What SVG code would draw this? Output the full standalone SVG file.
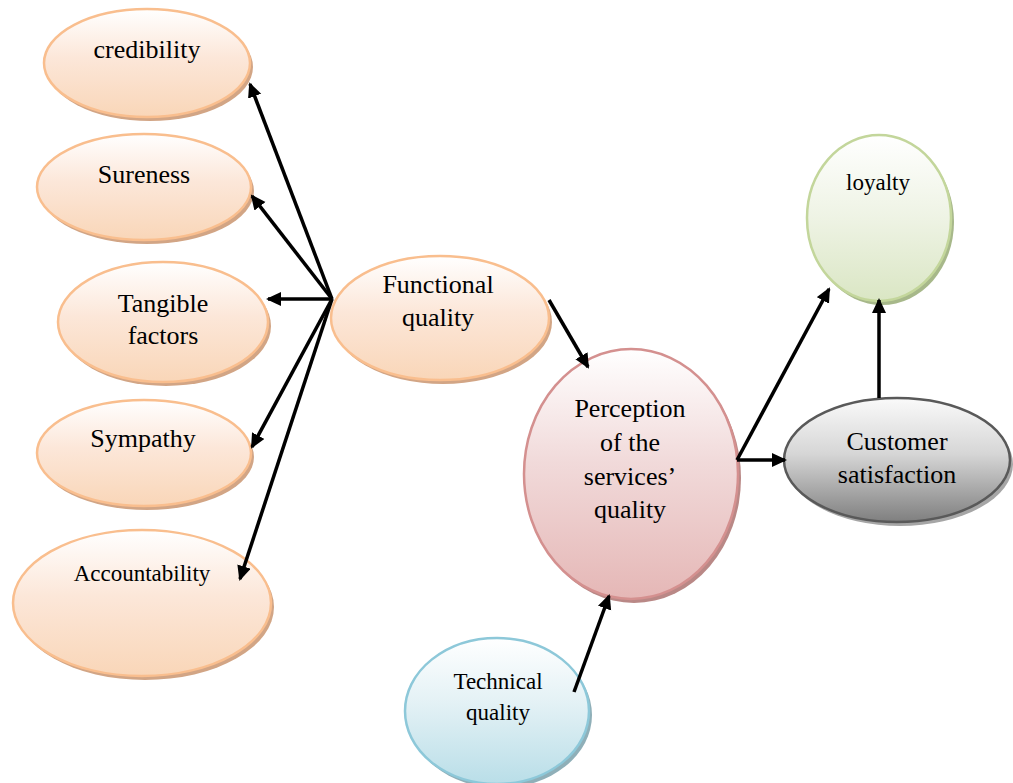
<svg xmlns="http://www.w3.org/2000/svg" width="1013" height="783" viewBox="0 0 1013 783">
<style>
text{font-family:"Liberation Serif","Times New Roman",serif;fill:#000;text-anchor:middle}
.t26{font-size:26px}
.t23{font-size:23px}
.or{fill:url(#gOr);stroke:#F9BE8E;stroke-width:2.5}
.orS{fill:#D2A585}
.pk{fill:url(#gPk);stroke:#D4908F;stroke-width:2.5}
.pkS{fill:#B98886}
.gr{fill:url(#gGr);stroke:#C3D69B;stroke-width:2.5}
.grS{fill:#A7B88A}
.gy{fill:url(#gGy);stroke:#595959;stroke-width:2.5}
.gyS{fill:#A6A6A6}
.bl{fill:url(#gBl);stroke:#8DC8D9;stroke-width:2.5}
.blS{fill:#8FAFB8}
.arr{stroke:#000;stroke-width:3.5;fill:none;marker-end:url(#ah)}
</style>
<defs>
<linearGradient id="gOr" x1="0" y1="0" x2="0" y2="1"><stop offset="0" stop-color="#FFFFFF"/><stop offset="0.45" stop-color="#FCE7D9"/><stop offset="1" stop-color="#F9D6B8"/></linearGradient>
<linearGradient id="gPk" x1="0" y1="0" x2="0" y2="1"><stop offset="0" stop-color="#FFFFFF"/><stop offset="0.45" stop-color="#F1DADA"/><stop offset="1" stop-color="#E5B7B6"/></linearGradient>
<linearGradient id="gGr" x1="0" y1="0" x2="0" y2="1"><stop offset="0" stop-color="#FFFFFF"/><stop offset="0.5" stop-color="#EEF3E4"/><stop offset="1" stop-color="#DAE6C4"/></linearGradient>
<linearGradient id="gGy" x1="0" y1="0" x2="0" y2="1"><stop offset="0" stop-color="#FAFAFA"/><stop offset="0.45" stop-color="#D6D6D6"/><stop offset="1" stop-color="#7F7F7F"/></linearGradient>
<linearGradient id="gBl" x1="0" y1="0" x2="0" y2="1"><stop offset="0" stop-color="#FFFFFF"/><stop offset="0.45" stop-color="#E3F1F5"/><stop offset="1" stop-color="#B9DEE8"/></linearGradient>
<marker id="ah" markerUnits="userSpaceOnUse" markerWidth="16" markerHeight="16" refX="13" refY="7" orient="auto"><path d="M0,0 L15,7 L0,14 z" fill="#000"/></marker>
</defs>

<g id="credibility">
<ellipse class="orS" cx="150" cy="67" rx="103" ry="54"/>
<ellipse class="or" cx="147" cy="63" rx="103" ry="54"/>
<text class="t26" x="147" y="58">credibility</text>
</g>
<g id="sureness">
<ellipse class="orS" cx="147" cy="191" rx="107" ry="53"/>
<ellipse class="or" cx="144" cy="187" rx="107" ry="53"/>
<text class="t26" x="144" y="183">Sureness</text>
</g>
<g id="tangible">
<ellipse class="orS" cx="166" cy="326" rx="105" ry="60"/>
<ellipse class="or" cx="163" cy="322" rx="105" ry="60"/>
<text class="t26" x="163" y="312">Tangible</text>
<text class="t26" x="163" y="344">factors</text>
</g>
<g id="sympathy">
<ellipse class="orS" cx="147" cy="457" rx="107" ry="53"/>
<ellipse class="or" cx="144" cy="453" rx="107" ry="53"/>
<text class="t26" x="143" y="447">Sympathy</text>
</g>
<g id="accountability">
<ellipse class="orS" cx="145" cy="607" rx="129" ry="73"/>
<ellipse class="or" cx="142" cy="603" rx="129" ry="73"/>
<text class="t23" x="142" y="581">Accountability</text>
</g>
<g id="functional">
<ellipse class="orS" cx="443" cy="322" rx="109" ry="62"/>
<ellipse class="or" cx="440" cy="318" rx="109" ry="62"/>
<text class="t26" x="438" y="293">Functional</text>
<text class="t26" x="438" y="326">quality</text>
</g>
<g id="perception">
<ellipse class="pkS" cx="634" cy="478" rx="107" ry="125"/>
<ellipse class="pk" cx="631" cy="474" rx="107" ry="125"/>
<text class="t26" x="630" y="417">Perception</text>
<text class="t26" x="630" y="451">of the</text>
<text class="t26" x="630" y="485">services’</text>
<text class="t26" x="630" y="518">quality</text>
</g>
<g id="loyalty">
<ellipse class="grS" cx="882" cy="222" rx="72" ry="83"/>
<ellipse class="gr" cx="879" cy="218" rx="72" ry="83"/>
<text class="t23" x="878" y="190">loyalty</text>
</g>
<g id="customer">
<ellipse class="gyS" cx="900" cy="464" rx="113" ry="62"/>
<ellipse class="gy" cx="897" cy="460" rx="113" ry="62"/>
<text class="t26" x="897" y="450">Customer</text>
<text class="t26" x="897" y="483">satisfaction</text>
</g>
<g id="technical">
<ellipse class="blS" cx="500" cy="715" rx="92" ry="73"/>
<ellipse class="bl" cx="497" cy="711" rx="92" ry="73"/>
<text class="t23" x="498" y="689">Technical</text>
<text class="t23" x="498" y="720">quality</text>
</g>

<g id="connectors">
<line class="arr" x1="332" y1="299" x2="250" y2="84"/>
<line class="arr" x1="332" y1="299" x2="252" y2="196"/>
<line class="arr" x1="332" y1="299" x2="268" y2="299"/>
<line class="arr" x1="332" y1="299" x2="252" y2="447"/>
<line class="arr" x1="332" y1="299" x2="240" y2="579"/>
<line class="arr" x1="549" y1="300" x2="588" y2="367"/>
<line class="arr" x1="574" y1="692" x2="609" y2="596"/>
<line class="arr" x1="737" y1="460" x2="829" y2="289"/>
<line class="arr" x1="737" y1="460" x2="785" y2="460"/>
<line class="arr" x1="879" y1="398" x2="879" y2="300"/>
</g>
</svg>
